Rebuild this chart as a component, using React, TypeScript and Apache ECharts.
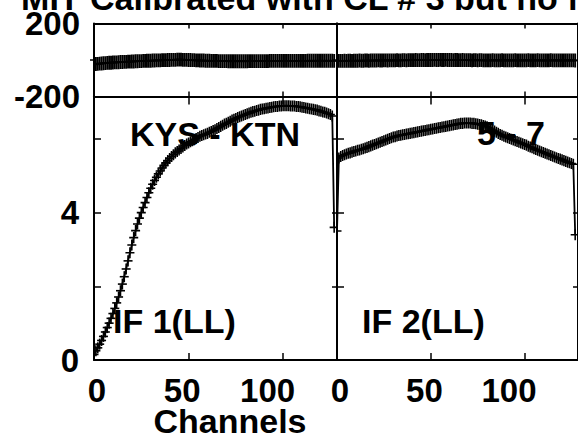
import React, { useEffect, useRef } from "react";
import * as echarts from "echarts";

// ---- data ----
const CHANNELS: number[] = Array.from({ length: 128 }, (_, i) => i);

const IF1_AMP = [
  0.15, 0.25, 0.33, 0.43, 0.53, 0.64, 0.76, 0.88, 1.0, 1.13,
  1.26, 1.4, 1.55, 1.71, 1.88, 2.06, 2.26, 2.47, 2.69, 2.91,
  3.12, 3.32, 3.51, 3.69, 3.85, 4.0, 4.14, 4.27, 4.41, 4.54,
  4.66, 4.77, 4.87, 4.96, 5.05, 5.13, 5.21, 5.28, 5.35, 5.41,
  5.47, 5.52, 5.57, 5.62, 5.66, 5.7, 5.74, 5.78, 5.82, 5.86,
  5.89, 5.92, 5.95, 5.98, 6.01, 6.04, 6.07, 6.09, 6.11, 6.13,
  6.15, 6.18, 6.2, 6.23, 6.25, 6.28, 6.31, 6.34, 6.37, 6.4,
  6.42, 6.45, 6.48, 6.51, 6.53, 6.55, 6.58, 6.6, 6.62, 6.64,
  6.66, 6.68, 6.7, 6.72, 6.74, 6.75, 6.77, 6.78, 6.8, 6.81,
  6.82, 6.83, 6.84, 6.85, 6.86, 6.87, 6.88, 6.88, 6.89, 6.89,
  6.9, 6.9, 6.9, 6.9, 6.89, 6.89, 6.89, 6.88, 6.88, 6.87,
  6.86, 6.85, 6.84, 6.83, 6.82, 6.81, 6.8, 6.79, 6.78, 6.76,
  6.75, 6.73, 6.72, 6.7, 6.68, 6.66, 6.62, 3.6,
];

const IF2_AMP = [
  3.5, 5.48, 5.52, 5.55, 5.57, 5.59, 5.61, 5.62, 5.64, 5.66,
  5.67, 5.69, 5.7, 5.72, 5.73, 5.75, 5.77, 5.79, 5.81, 5.83,
  5.85, 5.87, 5.89, 5.91, 5.93, 5.95, 5.97, 5.99, 6.01, 6.03,
  6.05, 6.06, 6.08, 6.09, 6.1, 6.11, 6.12, 6.13, 6.14, 6.15,
  6.16, 6.17, 6.18, 6.19, 6.2, 6.21, 6.22, 6.23, 6.24, 6.25,
  6.26, 6.27, 6.28, 6.29, 6.3, 6.31, 6.32, 6.33, 6.34, 6.35,
  6.36, 6.37, 6.38, 6.39, 6.4, 6.41, 6.42, 6.42, 6.43, 6.43,
  6.43, 6.43, 6.42, 6.42, 6.41, 6.4, 6.39, 6.38, 6.36, 6.35,
  6.33, 6.3, 6.27, 6.24, 6.21, 6.18, 6.15, 6.12, 6.1, 6.07,
  6.05, 6.03, 6.01, 5.99, 5.97, 5.95, 5.93, 5.91, 5.89, 5.87,
  5.85, 5.83, 5.8, 5.78, 5.76, 5.73, 5.71, 5.69, 5.67, 5.65,
  5.63, 5.61, 5.59, 5.57, 5.55, 5.53, 5.51, 5.49, 5.47, 5.45,
  5.43, 5.41, 5.39, 5.37, 5.35, 5.33, 5.31, 3.4,
];

const IF1_PHASE = [
  -24, -22, -21, -20, -19, -18, -17, -16, -15, -15,
  -14, -13, -13, -12, -11, -11, -10, -10, -9, -9,
  -8, -8, -7, -7, -6, -6, -5, -5, -4, -4,
  -4, -3, -3, -2, -2, -2, -1, -1, -1, 0,
  0, 1, 1, 1, 2, 2, 2, 1, 1, 1,
  0, 0, -1, -1, -2, -2, -3, -3, -3, -4,
  -4, -4, -5, -5, -5, -5, -6, -6, -6, -6,
  -6, -7, -7, -7, -7, -7, -7, -7, -7, -7,
  -7, -7, -6, -6, -6, -6, -6, -6, -6, -6,
  -6, -6, -6, -5, -5, -5, -5, -5, -5, -5,
  -5, -5, -5, -5, -5, -5, -5, -5, -5, -5,
  -5, -5, -5, -4, -4, -4, -4, -4, -4, -4,
  -4, -4, -4, -4, -4, -4, -4, -5,
];

const IF2_PHASE = [
  -6, -5, -5, -5, -4, -5, -4, -4, -5, -4,
  -4, -4, -3, -4, -4, -3, -3, -4, -3, -3,
  -3, -3, -2, -3, -3, -2, -2, -3, -2, -2,
  -2, -2, -1, -2, -2, -1, -1, -2, -1, -1,
  -1, -1, 0, -1, -1, 0, 0, -1, 0, 0,
  0, 0, 1, 0, 0, 1, 0, 0, 1, 0,
  0, 0, -1, 0, 0, -1, -1, 0, -1, -1,
  -1, -1, -2, -1, -1, -2, -1, -1, -2, -2,
  -2, -2, -2, -1, -2, -2, -2, -2, -1, -2,
  -2, -2, -2, -2, -2, -1, -2, -2, -2, -2,
  -2, -2, -1, -2, -2, -2, -2, -1, -2, -2,
  -2, -2, -2, -2, -1, -2, -2, -2, -2, -2,
  -2, -2, -2, -2, -2, -2, -2, -3,
];

const AMP_ERR = 0.15;
const PHASE_ERR = 38;

const X_TICKS = [0, 50, 100];
const AMP_TICKS = [0, 2, 4, 6];
const AMP_LABELS = [0, 4];
const PHASE_LABELS = [-200, 200];
const PHASE_TICKS = [0];

const X_MAX = 128.5;
const AMP_MAX = 7.15;

const FONT = "'Liberation Sans', Arial, Helvetica, sans-serif";

export default function App() {
  const ref = useRef<HTMLDivElement>(null);

  useEffect(() => {
    if (!ref.current) return;
    const chart = echarts.init(ref.current, null, { renderer: "svg" });

    const grids = [
      { left: 94, top: 23.5, width: 243, height: 73 },
      { left: 337, top: 23.5, width: 243, height: 73 },
      { left: 94, top: 96.5, width: 243, height: 263.5 },
      { left: 337, top: 96.5, width: 243, height: 263.5 },
    ];

    const lineStyle = { color: "#000", width: 2 };
    const xAxes: any[] = [];
    const yAxes: any[] = [];
    grids.forEach((_, gi) => {
      const isAmp = gi >= 2;
      const isLeftPanel = gi % 2 === 0;
      xAxes.push({
        type: "value",
        gridIndex: gi,
        position: "bottom",
        min: 0,
        max: X_MAX,
        interval: 50,
        axisLine: { show: true, onZero: false, lineStyle },
        axisTick: {
          show: true,
          inside: true,
          length: isAmp ? 7 : 5,
          customValues: X_TICKS,
          lineStyle: { color: "#000", width: 1.5 },
        },
        axisLabel: { show: false },
        splitLine: { show: false },
      });
      xAxes.push({
        type: "value",
        gridIndex: gi,
        position: "top",
        min: 0,
        max: X_MAX,
        interval: 50,
        axisLine: { show: true, onZero: false, lineStyle },
        axisTick: {
          show: true,
          inside: true,
          length: isAmp ? 8 : 5,
          customValues: X_TICKS,
          lineStyle: { color: "#000", width: 1.5 },
        },
        axisLabel: { show: false },
        splitLine: { show: false },
      });
      yAxes.push(
        isAmp
          ? {
              type: "value",
              gridIndex: gi,
              position: "left",
              min: 0,
              max: AMP_MAX,
              interval: 2,
              axisLine: { show: true, onZero: false, lineStyle },
              axisTick: {
                show: true,
                inside: true,
                length: 7,
                customValues: AMP_TICKS,
                lineStyle: { color: "#000", width: 1.5 },
              },
              axisLabel: {
                show: isLeftPanel,
                customValues: AMP_LABELS,
                formatter: (v: number) => (AMP_LABELS.includes(v) ? String(v) : ""),
                margin: 15,
                color: "#000",
                fontFamily: FONT,
                fontWeight: "bold",
                fontSize: 33,
                verticalAlign: "middle",
              },
              splitLine: { show: false },
            }
          : {
              type: "value",
              gridIndex: gi,
              position: "left",
              min: -200,
              max: 200,
              interval: 200,
              axisLine: { show: true, onZero: false, lineStyle },
              axisTick: {
                show: true,
                inside: false,
                length: 4,
                customValues: PHASE_TICKS,
                lineStyle: { color: "#000", width: 1.5 },
              },
              axisLabel: {
                show: isLeftPanel,
                customValues: PHASE_LABELS,
                formatter: (v: number) => (PHASE_LABELS.includes(v) ? String(v) : ""),
                margin: 14,
                color: "#000",
                fontFamily: FONT,
                fontWeight: "bold",
                fontSize: 33,
                verticalAlign: "middle",
              },
              splitLine: { show: false },
            }
      );
      yAxes.push({
        type: "value",
        gridIndex: gi,
        position: "right",
        min: isAmp ? 0 : -200,
        max: isAmp ? AMP_MAX : 200,
        interval: isAmp ? 2 : 200,
        axisLine: { show: true, onZero: false, lineStyle },
        axisTick: {
          show: isAmp,
          inside: true,
          length: 5,
          customValues: AMP_TICKS,
          lineStyle: { color: "#000", width: 1.5 },
        },
        axisLabel: { show: false },
        splitLine: { show: false },
      });
    });

    const makeRender = (barWidth: number) => (params: any, api: any) => {
      const x = api.value(0);
      const v = api.value(1);
      const e = api.value(2);
      const p = api.coord([x, v]);
      const t = api.coord([x, v + e]);
      const b = api.coord([x, v - e]);
      const style = { stroke: "#000", lineWidth: barWidth, fill: "none" };
      return {
        type: "group",
        children: [
          { type: "line", shape: { x1: p[0], y1: t[1], x2: p[0], y2: b[1] }, style },
          {
            type: "line",
            shape: { x1: p[0] - 4.5, y1: p[1], x2: p[0] + 4.5, y2: p[1] },
            style: { stroke: "#000", lineWidth: 1.6, fill: "none" },
          },
        ],
      };
    };

    const panels = [
      { vals: IF1_PHASE, err: PHASE_ERR, gi: 0, bw: 1.9 },
      { vals: IF2_PHASE, err: PHASE_ERR, gi: 1, bw: 1.9 },
      { vals: IF1_AMP, err: AMP_ERR, gi: 2, bw: 1.6 },
      { vals: IF2_AMP, err: AMP_ERR, gi: 3, bw: 1.6 },
    ];

    const series: any[] = [];
    panels.forEach((pn) => {
      const pts = CHANNELS.map((c, i) => [c, pn.vals[i], pn.err]);
      series.push({
        type: "line",
        xAxisIndex: pn.gi * 2,
        yAxisIndex: pn.gi * 2,
        data: pts.map((d) => [d[0], d[1]]),
        showSymbol: false,
        symbol: "none",
        lineStyle: { color: "#000", width: 1.8 },
        clip: true,
        z: 3,
      });
      series.push({
        type: "custom",
        xAxisIndex: pn.gi * 2,
        yAxisIndex: pn.gi * 2,
        data: pts,
        dimensions: ["ch", "val", "err"],
        encode: { x: 0, y: 1 },
        renderItem: makeRender(pn.bw),
        clip: true,
        z: 4,
      });
    });

    const txt = (text: string, x: number, y: number, align = "left", size = 34) => ({
      type: "text",
      x,
      y,
      z: 1,
      style: {
        text,
        fill: "#000",
        font: `bold ${size}px ${FONT}`,
        textAlign: align,
        textVerticalAlign: "middle",
      },
    });

    chart.setOption({
      animation: false,
      backgroundColor: "#fff",
      grid: grids.map((g) => ({ ...g, containLabel: false, show: false })),
      xAxis: xAxes,
      yAxis: yAxes,
      series,
    });

    const tickLabels: any[] = [];
    [4, 6].forEach((axisIdx) => {
      X_TICKS.forEach((v) => {
        const px = chart.convertToPixel({ xAxisIndex: axisIdx } as any, v) as number;
        tickLabels.push(txt(String(v), px + 12, 390, "right", 33));
      });
    });

    chart.setOption({
      graphic: [
        txt("MH", 74, -2, "right"),
        txt("Calibrated with CL # 3 but no f", 90, -2, "left"),
        txt("KYS - KTN", 130, 133.5),
        txt("5 - 7", 477, 132.5),
        txt("IF 1(LL)", 113, 321),
        txt("IF 2(LL)", 362, 321),
        txt("Channels", 230, 421, "center"),
        ...tickLabels,
      ],
    });

    return () => chart.dispose();
  }, []);

  return (
    <div
      ref={ref}
      style={{ position: "absolute", left: 0, top: 0, width: 578, height: 440, background: "#fff" }}
    />
  );
}
